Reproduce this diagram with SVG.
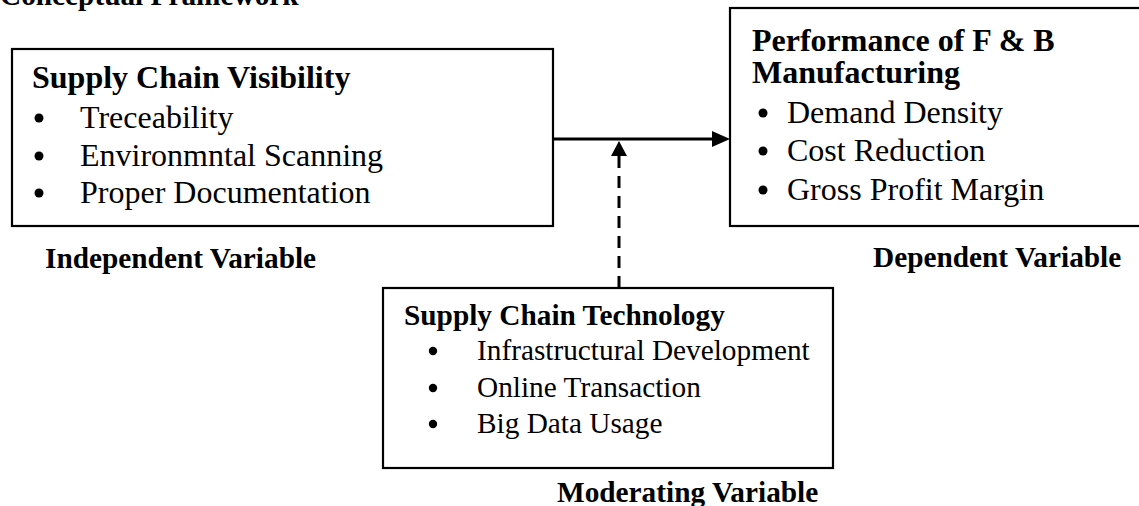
<svg xmlns="http://www.w3.org/2000/svg" width="1139" height="506" viewBox="0 0 1139 506">
  <style>
    text { font-family: "Liberation Serif", "Times New Roman", serif; fill: #000; }
    .h { font-weight: bold; font-size: 32px; }
    .hs { font-weight: bold; font-size: 29.3px; }
    .it { font-size: 32px; }
    .its { font-size: 29.3px; }
    .lbl { font-weight: bold; font-size: 29.3px; }
    .box { fill: #fff; stroke: #000; stroke-width: 2.2; }
    .conn { stroke: #000; stroke-width: 3; fill: none; }
    .dash { stroke-dasharray: 12 8; }
  </style>
  <defs>
    <marker id="arr" viewBox="0 0 10 10" refX="10" refY="5" markerWidth="6" markerHeight="6" markerUnits="userSpaceOnUse" orient="auto">
      <path d="M0,0 L10,5 L0,10 z" fill="#000"/>
    </marker>
    <marker id="arrB" viewBox="0 0 10 10" refX="10" refY="5" markerWidth="5.2" markerHeight="5.2" orient="auto">
      <path d="M0,0 L10,5 L0,10 z" fill="#000"/>
    </marker>
  </defs>
  <rect width="1139" height="506" fill="#fff"/>

  <text class="hs" x="0" y="5">Conceptual Framework</text>

  <g id="independent">
    <rect class="box" x="12" y="49" width="541" height="177"/>
    <text class="h" x="32" y="88">Supply Chain Visibility</text>
    <circle cx="39" cy="118" r="4.5"/>
    <text class="it" x="80" y="128">Treceability</text>
    <circle cx="39" cy="156" r="4.5"/>
    <text class="it" x="80" y="166">Environmntal Scanning</text>
    <circle cx="39" cy="193" r="4.5"/>
    <text class="it" x="80" y="203">Proper Documentation</text>
    <text class="lbl" x="45" y="268">Independent Variable</text>
  </g>

  <g id="dependent">
    <rect class="box" x="730" y="8" width="420" height="218"/>
    <text class="h" x="752" y="51">Performance of F &amp; B</text>
    <text class="h" x="752" y="83">Manufacturing</text>
    <circle cx="763" cy="113" r="4.5"/>
    <text class="it" x="787" y="123">Demand Density</text>
    <circle cx="763" cy="151" r="4.5"/>
    <text class="it" x="787" y="161">Cost Reduction</text>
    <circle cx="763" cy="190" r="4.5"/>
    <text class="it" x="787" y="200">Gross Profit Margin</text>
    <text class="lbl" x="873" y="267">Dependent Variable</text>
  </g>

  <g id="moderating">
    <rect class="box" x="383" y="288" width="450" height="180"/>
    <text class="hs" x="404" y="325">Supply Chain Technology</text>
    <circle cx="433" cy="351" r="4.2"/>
    <text class="its" x="477" y="360">Infrastructural Development</text>
    <circle cx="433" cy="388" r="4.2"/>
    <text class="its" x="477" y="397">Online Transaction</text>
    <circle cx="433" cy="424" r="4.2"/>
    <text class="its" x="477" y="433">Big Data Usage</text>
    <text class="lbl" x="557" y="502">Moderating Variable</text>
  </g>

  <g id="connectors">
    <line class="conn" x1="553" y1="139" x2="712" y2="139"/>
    <path d="M712,131 L730,139 L712,147 z" fill="#000"/>
    <line class="conn dash" x1="619" y1="288" x2="619" y2="156"/>
    <path d="M611,156 L619,141 L627,156 z" fill="#000"/>
  </g>
</svg>
